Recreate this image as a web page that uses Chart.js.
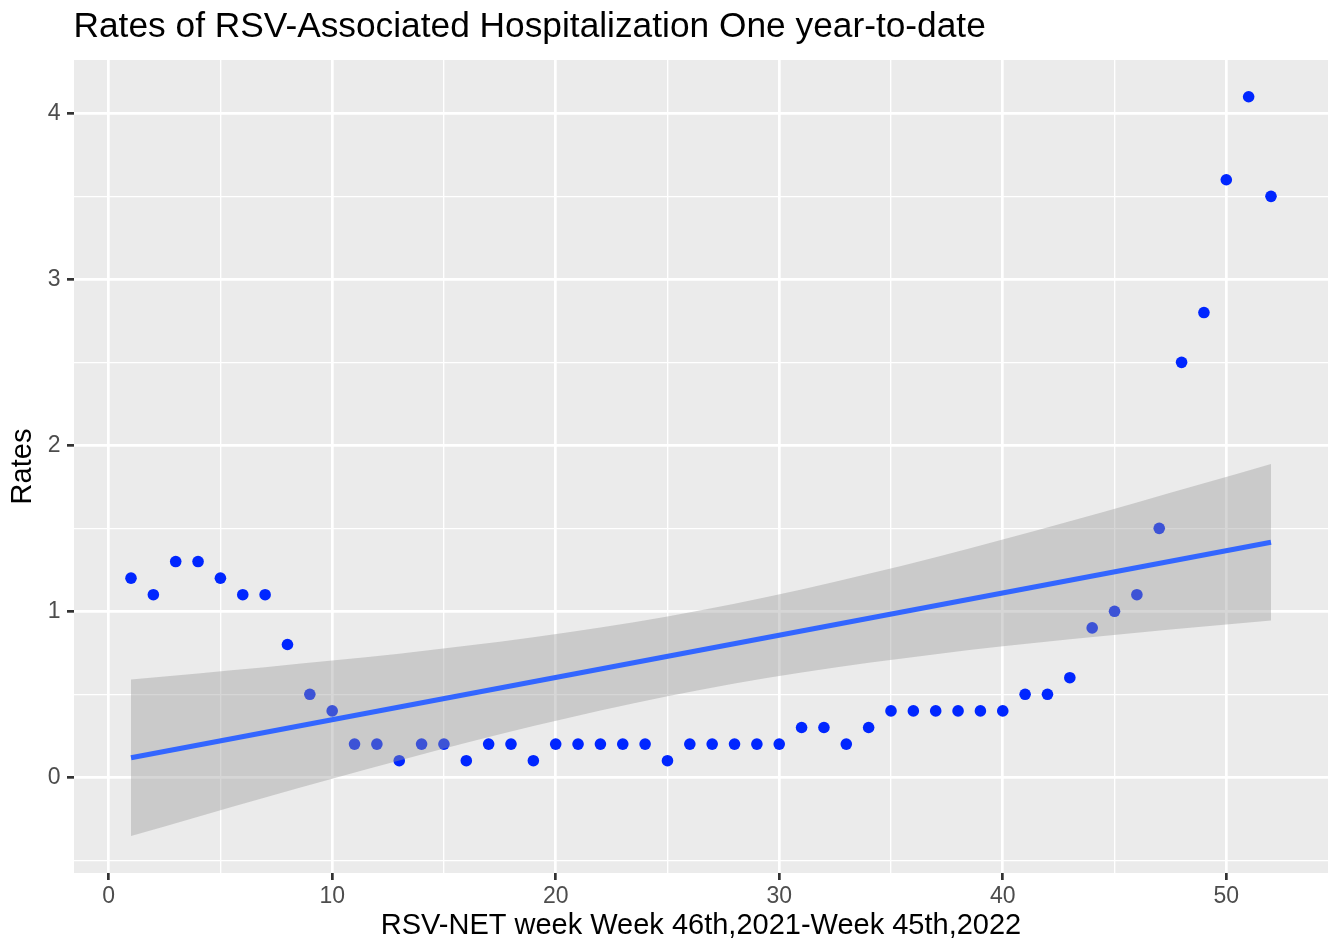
<!DOCTYPE html>
<html>
<head>
<meta charset="utf-8">
<script src="https://cdn.jsdelivr.net/npm/chart.js@4.4.1/dist/chart.umd.min.js"></script>
<style>
  html, body { margin: 0; padding: 0; background: #ffffff; }
  #wrap { width: 1334px; height: 952px; position: relative; }
</style>
</head>
<body>
<div id="wrap"><canvas id="c"></canvas></div>
<script>
// ---- data ----
const weeks = [1,2,3,4,5,6,7,8,9,10,11,12,13,14,15,16,17,18,19,20,21,22,23,24,25,26,
               27,28,29,30,31,32,33,34,35,36,37,38,39,40,41,42,43,44,45,46,47,48,49,50,51,52];
const rates = [1.2,1.1,1.3,1.3,1.2,1.1,1.1,0.8,0.5,0.4,0.2,0.2,0.1,0.2,0.2,0.1,0.2,0.2,0.1,0.2,
               0.2,0.2,0.2,0.2,0.1,0.2,0.2,0.2,0.2,0.2,0.3,0.3,0.2,0.3,0.4,0.4,0.4,0.4,0.4,0.4,
               0.5,0.5,0.6,0.9,1.0,1.1,1.5,2.5,2.8,3.6,4.1,3.5];

// linear fit line and its confidence band
const fitWeeks = [1, 52];
const fitRates = [0.118, 1.416];
const bandWeeks = [1,4,7,10,13,16,19,22,25,28,31,34,37,40,43,46,49,52];
const bandUpper = [0.590,0.626,0.663,0.703,0.745,0.792,0.844,0.902,0.969,1.046,1.131,1.226,1.326,1.433,1.543,1.656,1.771,1.888];
const bandLower = [-0.354,-0.237,-0.122,-0.009,0.101,0.208,0.309,0.403,0.488,0.565,0.632,0.690,0.742,0.789,0.831,0.871,0.908,0.944];

// axes
const xMajor = [0,10,20,30,40,50];
const xMinor = [5,15,25,35,45];
const yMajor = [0,1,2,3,4];
const yMinor = [-0.5,0.5,1.5,2.5,3.5];
const xRange = [-1.55, 54.55];
const yRange = [-0.5765, 4.3215];

const titleText = 'Rates of RSV-Associated Hospitalization One year-to-date';
const xTitle = 'RSV-NET week Week 46th,2021-Week 45th,2022';
const yTitle = 'Rates';

// ---- chart ----
const FONT = '"Liberation Sans", Arial, Helvetica, sans-serif';
Chart.defaults.font.family = FONT;

const pts = (xs, ys) => xs.map((x, i) => ({x: x, y: ys[i]}));

function gridFor(major) {
  return {
    drawOnChartArea: true,
    drawTicks: true,
    tickLength: 7,
    color: (ctx) => '#ffffff',
    lineWidth: (ctx) => (ctx.tick && major.includes(ctx.tick.value)) ? 2.7 : 1.35,
    tickColor: (ctx) => (ctx.tick && major.includes(ctx.tick.value)) ? '#333333' : 'rgba(0,0,0,0)',
    tickWidth: 2.7
  };
}

const bgPlugin = {
  id: 'panelBg',
  beforeDraw(chart) {
    const {ctx, chartArea: a} = chart;
    ctx.save();
    ctx.fillStyle = '#EBEBEB';
    ctx.fillRect(a.left, a.top, a.right - a.left, a.bottom - a.top);
    ctx.restore();
  },
  afterDraw(chart) {
    const ctx = chart.ctx;
    ctx.save();
    ctx.fillStyle = '#000000';
    ctx.font = '35.3px ' + FONT;
    ctx.textAlign = 'left';
    ctx.textBaseline = 'alphabetic';
    ctx.fillText(titleText, 73.5, 37);
    ctx.restore();
  }
};

new Chart(document.getElementById('c'), {
  type: 'scatter',
  data: {
    datasets: [
      {
        label: 'fit',
        data: pts(fitWeeks, fitRates),
        showLine: true,
        borderColor: '#3366FF',
        borderWidth: 5,
        pointRadius: 0,
        fill: false,
        order: 1
      },
      {
        label: 'upper',
        data: pts(bandWeeks, bandUpper),
        showLine: true,
        borderWidth: 0,
        borderColor: 'rgba(0,0,0,0)',
        backgroundColor: 'rgba(153,153,153,0.4)',
        pointRadius: 0,
        cubicInterpolationMode: 'monotone',
        fill: '+1',
        order: 4
      },
      {
        label: 'lower',
        data: pts(bandWeeks, bandLower),
        showLine: true,
        borderWidth: 0,
        borderColor: 'rgba(0,0,0,0)',
        pointRadius: 0,
        cubicInterpolationMode: 'monotone',
        fill: false,
        order: 5
      },
      {
        label: 'rates',
        data: pts(weeks, rates),
        pointRadius: 5.8,
        pointHoverRadius: 5.8,
        pointBackgroundColor: '#0026FF',
        pointBorderWidth: 0,
        borderWidth: 0,
        order: 10
      }
    ]
  },
  options: {
    responsive: true,
    maintainAspectRatio: false,
    animation: false,
    devicePixelRatio: 1,
    events: [],
    layout: { padding: { top: 60, right: 6, bottom: 0, left: 0 } },
    plugins: {
      legend: { display: false },
      tooltip: { enabled: false },
      title: { display: false }
    },
    scales: {
      x: {
        type: 'linear',
        min: xRange[0],
        max: xRange[1],
        border: { display: false },
        grid: gridFor(xMajor),
        afterBuildTicks: (s) => { s.ticks = xMajor.concat(xMinor).sort((a,b)=>a-b).map(v => ({value: v})); },
        afterFit: (s) => { s.height = 79; },
        ticks: {
          autoSkip: false,
          maxRotation: 0,
          padding: 2.5,
          color: '#4D4D4D',
          font: { size: 23 },
          callback: (v) => xMajor.includes(v) ? String(v) : ''
        },
        title: {
          display: true,
          text: xTitle,
          color: '#000000',
          font: { size: 29 },
          padding: { top: 0, bottom: 8.6 }
        }
      },
      y: {
        type: 'linear',
        min: yRange[0],
        max: yRange[1],
        border: { display: false },
        grid: gridFor(yMajor),
        afterBuildTicks: (s) => { s.ticks = yMajor.concat(yMinor).sort((a,b)=>a-b).map(v => ({value: v})); },
        afterFit: (s) => { s.width = 74; },
        ticks: {
          autoSkip: false,
          padding: 6.5,
          color: '#4D4D4D',
          font: { size: 23 },
          callback: (v) => yMajor.includes(v) ? String(v) : ''
        },
        title: {
          display: true,
          text: yTitle,
          color: '#000000',
          font: { size: 29 },
          padding: { top: 5.6, bottom: 0 }
        }
      }
    }
  },
  plugins: [bgPlugin]
});
</script>
</body>
</html>
